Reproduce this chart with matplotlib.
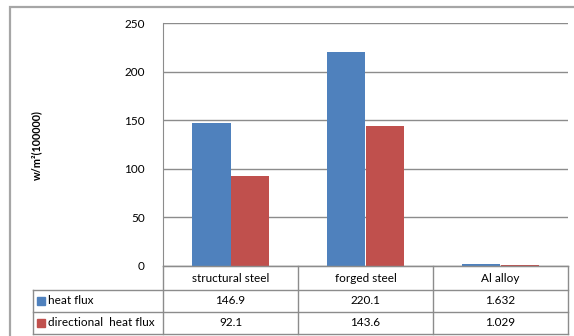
import matplotlib
matplotlib.use("Agg")
import matplotlib.pyplot as plt
from matplotlib.lines import Line2D
from matplotlib.patches import Rectangle
import numpy as np

categories = ["structural steel", "forged steel", "Al alloy"]
series_names = ["heat flux", "directional  heat flux"]
heat_flux = [146.9, 220.1, 1.632]
directional_heat_flux = [92.1, 143.6, 1.029]
value_labels = [["146.9", "220.1", "1.632"], ["92.1", "143.6", "1.029"]]
y_ticks = [0, 50, 100, 150, 200, 250]
colors = ["#4F81BD", "#C0504D"]

W, H = 574, 336
plt.rcParams["font.family"] = ["Lato", "DejaVu Sans"]
fig = plt.figure(figsize=(W / 100, H / 100), dpi=100)


def fx(px):
    return px / W


def fy(py):
    return 1 - py / H


# outer chart frame
fig.patches.append(Rectangle((fx(10), fy(340)), fx(580) - fx(10), fy(7) - fy(340),
                             transform=fig.transFigure, fill=False,
                             edgecolor="#a6a6a6", linewidth=1.6))

left, right, top, bottom = 163, 568, 23, 266
ax = fig.add_axes([fx(left), fy(bottom), fx(right) - fx(left), fy(top) - fy(bottom)])

x = np.arange(len(categories))
bw = 0.285
ax.bar(x - bw / 2, heat_flux, width=bw, color=colors[0], zorder=3)
ax.bar(x + bw / 2, directional_heat_flux, width=bw, color=colors[1], zorder=3)

ax.set_xlim(-0.5, len(categories) - 0.5)
ax.set_ylim(0, 250)
ax.set_yticks(y_ticks)
ax.set_yticklabels([str(t) for t in y_ticks], fontsize=8.5)
ax.yaxis.grid(True, color="#8c8c8c", linewidth=1.0, zorder=0)
ax.set_xticks([])
ax.tick_params(axis="y", length=0, pad=13)
for s in ["top", "right"]:
    ax.spines[s].set_visible(False)
ax.spines["left"].set_color("#8c8c8c")
ax.spines["bottom"].set_color("#8c8c8c")

fig.text(fx(37), fy(145), "w/m²(100000)", rotation=90, fontsize=7.8,
         fontweight="bold", ha="center", va="center")

# data table below the bars
line_kw = dict(color="#8c8c8c", linewidth=1.0, transform=fig.transFigure)
col_edges = [163, 298, 433, 568]
row_edges = [266, 290, 312, 334]
tbl_left = 33


def hline(y, x0, x1):
    fig.add_artist(Line2D([fx(x0), fx(x1)], [fy(y), fy(y)], **line_kw))


def vline(xp, y0, y1):
    fig.add_artist(Line2D([fx(xp), fx(xp)], [fy(y0), fy(y1)], **line_kw))


hline(row_edges[0], col_edges[0], col_edges[-1])
for y in row_edges[1:]:
    hline(y, tbl_left, col_edges[-1])
vline(tbl_left, row_edges[1], row_edges[-1])
for xp in col_edges:
    vline(xp, row_edges[0], row_edges[-1])

for i, cat in enumerate(categories):
    cx = (col_edges[i] + col_edges[i + 1]) / 2
    fig.text(fx(cx), fy((row_edges[0] + row_edges[1]) / 2), cat,
             fontsize=8.5, ha="center", va="center")
    for r in range(2):
        cy = (row_edges[r + 1] + row_edges[r + 2]) / 2
        fig.text(fx(cx), fy(cy), value_labels[r][i], fontsize=8.5,
                 ha="center", va="center")

for r, name in enumerate(series_names):
    cy = (row_edges[r + 1] + row_edges[r + 2]) / 2
    fig.patches.append(Rectangle((fx(37), fy(cy + 4)), fx(8), fy(0) - fy(8),
                                 transform=fig.transFigure, color=colors[r]))
    fig.text(fx(48), fy(cy), name, fontsize=8.5, ha="left", va="center")

fig.savefig("out.png", dpi=100)
